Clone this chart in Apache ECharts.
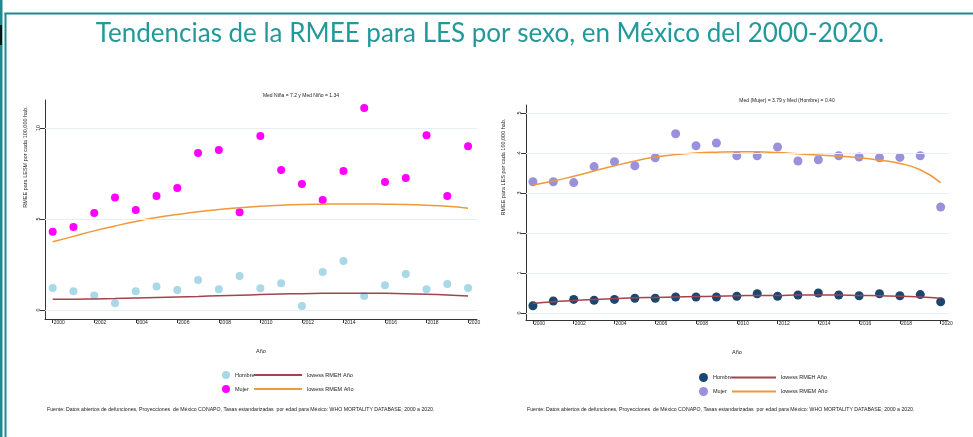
<!DOCTYPE html>
<html>
<head>
<meta charset="utf-8">
<script src="https://cdn.jsdelivr.net/npm/echarts@6/dist/echarts.min.js"></script>
<style>html,body{margin:0;padding:0;background:#fff;}#c{width:973px;height:437px;}</style>
</head>
<body>
<div id="c"></div>
<script>
// ---- data ----
const years = [2000,2001,2002,2003,2004,2005,2006,2007,2008,2009,2010,2011,2012,2013,2014,2015,2016,2017,2018,2019,2020];
const yearTicks = [2000,2002,2004,2006,2008,2010,2012,2014,2016,2018,2020];
const leftYTicks = [0,5,10];
const rightYTicks = [0,1,2,3,4,5];
// Left panel (LES)
const leftHombre = [1.21,1.03,0.80,0.38,1.04,1.30,1.10,1.65,1.15,1.87,1.20,1.48,0.22,2.09,2.69,0.77,1.37,1.98,1.15,1.43,1.21];
const leftMujer  = [4.30,4.56,5.33,6.19,5.50,6.26,6.70,8.63,8.79,5.38,9.56,7.69,6.92,6.04,7.64,11.10,7.03,7.25,9.60,6.26,9.00];
const leftLowessH = [0.60,0.60,0.61,0.63,0.66,0.69,0.72,0.75,0.79,0.82,0.85,0.88,0.90,0.92,0.93,0.93,0.92,0.90,0.87,0.83,0.78];
const leftLowessM = [3.75,4.05,4.35,4.62,4.87,5.08,5.25,5.40,5.52,5.62,5.70,5.76,5.80,5.82,5.83,5.83,5.82,5.80,5.76,5.70,5.60];
// Right panel
const rightHombre = [0.18,0.30,0.34,0.32,0.34,0.37,0.37,0.40,0.40,0.40,0.42,0.48,0.42,0.45,0.50,0.45,0.43,0.48,0.43,0.46,0.28];
const rightMujer  = [3.28,3.28,3.26,3.66,3.78,3.68,3.88,4.48,4.18,4.25,3.93,3.93,4.15,3.80,3.83,3.93,3.90,3.88,3.89,3.93,2.65];
const rightLowessH = [0.24,0.28,0.31,0.34,0.36,0.38,0.39,0.40,0.41,0.42,0.43,0.44,0.44,0.45,0.45,0.45,0.44,0.43,0.42,0.40,0.37];
const rightLowessM = [3.20,3.30,3.42,3.55,3.68,3.80,3.90,3.96,4.00,4.02,4.03,4.03,4.01,3.98,3.95,3.92,3.88,3.82,3.74,3.58,3.26];

const titleText = 'Tendencias de la RMEE para LES por sexo, en México del 2000-2020.';
const leftSub = 'Med Niña = 7.2 y Med Niño = 1.34';
const rightSub = 'Med (Mujer) = 3.79 y Med (Hombre) = 0.40';
const leftYName = 'RMEE para LESM por cada 100,000 hab.';
const rightYName = 'RMEE para LES por cada 100,000 hab.';
const xName = 'Año';
const source = 'Fuente: Datos abiertos de defunciones, Proyecciones  de México CONAPO, Tasas estandarizadas  por edad para México: WHO MORTALITY DATABASE; 2000 a 2020.';

// ---- build ----
const pairs = arr => years.map((y,i)=>[y,arr[i]]);
const FONT = 'Liberation Sans, Arial, sans-serif';
const TXT = '#222';
const GRIDC = '#e6eff1';
const ORANGE = '#f0993a';
const CRAN = '#a3434d';

function xAxisCfg(gi, min, max){
  return {
    type:'value', gridIndex:gi, min:min, max:max,
    name:xName, nameLocation:'middle', nameGap:29,
    nameTextStyle:{fontSize:5.5, color:TXT, fontFamily:FONT},
    axisLine:{show:true, onZero:false, lineStyle:{color:'#333', width:1}},
    axisTick:{show:true, length:4, customValues:yearTicks, lineStyle:{color:'#333'}},
    axisLabel:{customValues:yearTicks, formatter:v=>String(v), fontSize:5, color:TXT, fontFamily:FONT, align:'left', margin:1, padding:[0,0,0,1]},
    splitLine:{show:false}
  };
}
function yAxisCfg(gi, min, max, ticks){
  return {
    type:'value', gridIndex:gi, min:min, max:max,
    axisLine:{show:true, onZero:false, lineStyle:{color:'#333', width:1}},
    axisTick:{show:true, length:5, customValues:ticks, lineStyle:{color:'#333'}},
    axisLabel:{customValues:ticks, formatter:v=>String(v), fontSize:5.5, color:TXT, fontFamily:FONT, rotate:90, margin:4},
    splitLine:{show:false}
  };
}
function gridLines(ticks){
  return {silent:true, symbol:'none', label:{show:false},
    lineStyle:{color:GRIDC, width:1, type:'solid'},
    data: ticks.map(v=>({yAxis:v}))};
}

const option = {
  backgroundColor:'#fff',
  animation:false,
  grid:[
    {left:45, top:100, width:432, height:219},
    {left:526, top:105, width:422, height:215}
  ],
  xAxis:[ xAxisCfg(0,1999.63,2020.43), xAxisCfg(1,1999.66,2020.36) ],
  yAxis:[ yAxisCfg(0,-0.49,11.54,leftYTicks), yAxisCfg(1,-0.175,5.2,rightYTicks) ],
  legend:[
    {data:['Hombre','Mujer'], orient:'vertical', left:217, top:366, itemWidth:8, itemHeight:8, itemGap:6, icon:'circle',
      textStyle:{fontSize:5.5, color:TXT, fontFamily:FONT}, selectedMode:false},
    {data:['lowess RMEH Año','lowess RMEM Año'], orient:'vertical', left:249, top:366, itemWidth:48, itemHeight:2, itemGap:6, icon:'rect',
      textStyle:{fontSize:5.5, color:TXT, fontFamily:FONT, lineHeight:8, height:8}, selectedMode:false},
    {data:['Hombre ','Mujer '], orient:'vertical', left:694, top:368, itemWidth:9, itemHeight:9, itemGap:5, icon:'circle',
      textStyle:{fontSize:5.5, color:TXT, fontFamily:FONT}, selectedMode:false},
    {data:['lowess RMEH Año ','lowess RMEM Año '], orient:'vertical', left:727, top:368, itemWidth:44, itemHeight:2, itemGap:5, icon:'rect',
      textStyle:{fontSize:5.5, color:TXT, fontFamily:FONT, lineHeight:9, height:9}, selectedMode:false}
  ],
  graphic:[
    // slide frame
    {type:'rect', shape:{x:0, y:0, width:2.5, height:437}, style:{fill:'#1d8a8f'}, silent:true},
    {type:'rect', shape:{x:0, y:25, width:2, height:20}, style:{fill:'#111'}, silent:true},
    {type:'rect', shape:{x:4.5, y:13, width:2, height:424}, style:{fill:'#1d8a8f'}, silent:true},
    {type:'rect', shape:{x:4.5, y:12.5, width:969, height:2}, style:{fill:'#1d8a8f'}, silent:true},
    {type:'text', x:490, y:34, style:{text:titleText, fill:'#22999a', font:'26px Lato, "Open Sans", sans-serif', align:'center', verticalAlign:'middle'}, silent:true},
    {type:'text', x:301, y:96, style:{text:leftSub, fill:TXT, fontSize:5, fontFamily:FONT, align:'center', verticalAlign:'middle'}},
    {type:'text', x:787, y:101, style:{text:rightSub, fill:TXT, fontSize:5, fontFamily:FONT, align:'center', verticalAlign:'middle'}},
    {type:'text', x:25, y:157, rotation:Math.PI/2, style:{text:leftYName, fill:TXT, fontSize:5.5, fontFamily:FONT, align:'center', verticalAlign:'middle'}},
    {type:'text', x:503, y:167, rotation:Math.PI/2, style:{text:rightYName, fill:TXT, fontSize:5.5, fontFamily:FONT, align:'center', verticalAlign:'middle'}},
    {type:'text', x:47, y:410, style:{text:source, fill:TXT, fontSize:5.2, fontFamily:FONT, align:'left', verticalAlign:'middle'}},
    {type:'text', x:527, y:410, style:{text:source, fill:TXT, fontSize:5.2, fontFamily:FONT, align:'left', verticalAlign:'middle'}}
  ],
  series:[
    {name:'grid0', type:'line', xAxisIndex:0, yAxisIndex:0, data:[], markLine:gridLines(leftYTicks), z:1},
    {name:'grid1', type:'line', xAxisIndex:1, yAxisIndex:1, data:[], markLine:gridLines(rightYTicks), z:1},
    {name:'Hombre', type:'scatter', xAxisIndex:0, yAxisIndex:0, data:pairs(leftHombre), symbolSize:8, itemStyle:{color:'#a9d8e7', opacity:1}, z:3},
    {name:'Mujer', type:'scatter', xAxisIndex:0, yAxisIndex:0, data:pairs(leftMujer), symbolSize:8, itemStyle:{color:'#ff00ff', opacity:1}, z:3},
    {name:'lowess RMEH Año', type:'line', xAxisIndex:0, yAxisIndex:0, data:pairs(leftLowessH), smooth:true, symbol:'none', lineStyle:{color:CRAN, width:1.5}, itemStyle:{color:CRAN}, z:4},
    {name:'lowess RMEM Año', type:'line', xAxisIndex:0, yAxisIndex:0, data:pairs(leftLowessM), smooth:true, symbol:'none', lineStyle:{color:ORANGE, width:1.5}, itemStyle:{color:ORANGE}, z:4},
    {name:'Hombre ', type:'scatter', xAxisIndex:1, yAxisIndex:1, data:pairs(rightHombre), symbolSize:9, itemStyle:{color:'#1a476f', opacity:1}, z:3},
    {name:'Mujer ', type:'scatter', xAxisIndex:1, yAxisIndex:1, data:pairs(rightMujer), symbolSize:9, itemStyle:{color:'#9a91dc', opacity:1}, z:3},
    {name:'lowess RMEH Año ', type:'line', xAxisIndex:1, yAxisIndex:1, data:pairs(rightLowessH), smooth:true, symbol:'none', lineStyle:{color:CRAN, width:1.5}, itemStyle:{color:CRAN}, z:4},
    {name:'lowess RMEM Año ', type:'line', xAxisIndex:1, yAxisIndex:1, data:pairs(rightLowessM), smooth:true, symbol:'none', lineStyle:{color:ORANGE, width:1.5}, itemStyle:{color:ORANGE}, z:4}
  ]
};
const chart = echarts.init(document.getElementById('c'), null, {renderer:'canvas'});
chart.setOption(option);
</script>
</body>
</html>
